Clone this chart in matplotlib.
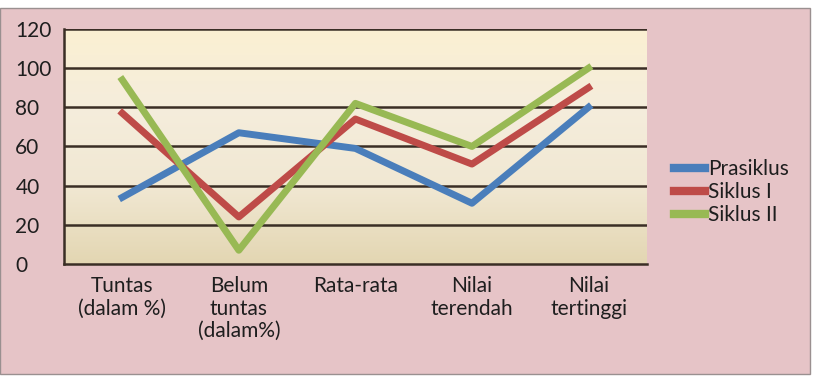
import numpy as np
import matplotlib.pyplot as plt
from matplotlib.patches import Rectangle
from matplotlib.colors import LinearSegmentedColormap

categories = ['Tuntas\n(dalam %)', 'Belum\ntuntas\n(dalam%)', 'Rata-rata', 'Nilai\nterendah', 'Nilai\ntertinggi']
prasiklus = [34, 67, 59, 31, 80]
siklus_1 = [77, 24, 74, 51, 90]
siklus_2 = [94, 7, 82, 60, 100]

plt.rcParams['font.family'] = ['Lato', 'DejaVu Sans']

fig = plt.figure(figsize=(8.14, 3.76), dpi=100)
fig.patch.set_facecolor('white')
# pink frame behind everything
fig.patches.append(Rectangle((0, 0.005), 0.995, 0.973, transform=fig.transFigure,
                             facecolor='#E6C4C7', edgecolor='#9A9090', lw=1.0, zorder=-10))

ax = fig.add_axes([0.0786, 0.298, 0.716, 0.625])
x = np.arange(len(categories))
ax.set_xlim(-0.5, len(categories) - 0.5)
ax.set_ylim(0, 120)

# gradient fill of plot area
grad = np.linspace(0, 1, 256).reshape(-1, 1)
cmap = LinearSegmentedColormap.from_list('g', ['#FBF0D2', '#F5EDDC', '#F1E8D3', '#E3D6B2'])
ax.imshow(grad, aspect='auto', cmap=cmap, extent=[-0.5, len(categories) - 0.5, 0, 120],
          origin='upper', zorder=0)

for yv in range(20, 121, 20):
    ax.axhline(yv, color='#3A2E25', lw=1.8, zorder=1)

ax.plot(x, prasiklus, color='#4A7EBB', lw=5, label='Prasiklus', zorder=3)
ax.plot(x, siklus_1, color='#BE4B48', lw=5, label='Siklus I', zorder=3)
ax.plot(x, siklus_2, color='#98B954', lw=5, label='Siklus II', zorder=3)

for s in ['top', 'right']:
    ax.spines[s].set_visible(False)
ax.spines['left'].set_color('#3A2E25')
ax.spines['bottom'].set_color('#3A2E25')
ax.spines['left'].set_linewidth(1.8)
ax.spines['bottom'].set_linewidth(1.8)

ax.set_yticks(range(0, 121, 20))
ax.set_xticks(x)
ax.set_xticklabels(categories, fontsize=15, color='#1E1E1E', va='top', linespacing=1.15)
ax.tick_params(axis='y', labelsize=15, length=0, pad=35, labelcolor='#1E1E1E')
ax.tick_params(axis='x', length=0, pad=9)
for lbl in ax.get_yticklabels():
    lbl.set_horizontalalignment('left')

leg = ax.legend(loc='center left', bbox_to_anchor=(1.014, 0.305), frameon=False,
                fontsize=15, handlelength=1.5, handletextpad=0.15, labelspacing=0.15)
for h in leg.get_lines():
    h.set_linewidth(6)
for t in leg.get_texts():
    t.set_color('#1E1E1E')

plt.savefig('out.png', dpi=100, facecolor=fig.get_facecolor())
